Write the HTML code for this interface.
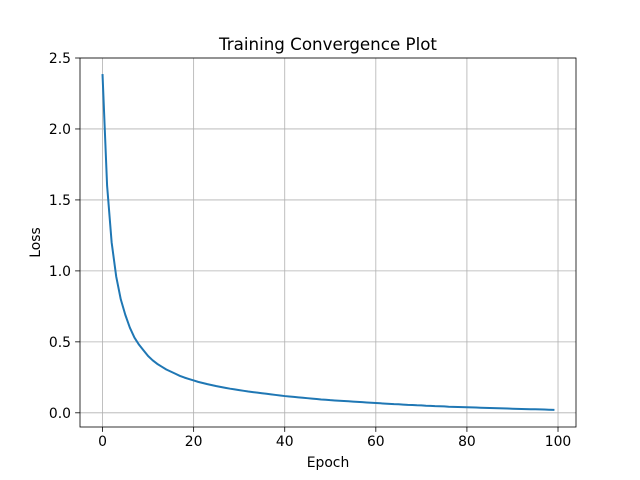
<!DOCTYPE html>
<html><head><meta charset="utf-8"><style>
html,body{margin:0;padding:0;background:#fff;width:640px;height:480px;overflow:hidden}
text{font-family:"DejaVu Sans","Liberation Sans",sans-serif;fill:#000}
</style></head><body>
<svg id="chart" width="640" height="480" xmlns="http://www.w3.org/2000/svg"></svg>
<script>
const lossValues=[2.38,1.60,1.20,0.96,0.80,0.69,0.60,0.53,0.48,0.44,0.40,0.37,0.345,0.325,0.305,0.29,0.275,0.26,0.248,0.238,0.228,0.218,0.21,0.202,0.195,0.188,0.182,0.176,0.17,0.165,0.16,0.155,0.15,0.146,0.142,0.138,0.134,0.13,0.126,0.122,0.118,0.115,0.112,0.109,0.106,0.103,0.1,0.097,0.094,0.092,0.089,0.087,0.085,0.083,0.081,0.079,0.077,0.075,0.073,0.071,0.069,0.067,0.065,0.063,0.061,0.06,0.058,0.056,0.055,0.053,0.052,0.05,0.049,0.047,0.046,0.045,0.043,0.042,0.041,0.04,0.039,0.038,0.037,0.036,0.035,0.034,0.033,0.032,0.031,0.03,0.029,0.028,0.027,0.026,0.025,0.025,0.024,0.023,0.022,0.021];
const xTicks=[0,20,40,60,80,100];
const yTicks=[0.0,0.5,1.0,1.5,2.0,2.5];
const yTickLabels=["0.0","0.5","1.0","1.5","2.0","2.5"];

const NS="http://www.w3.org/2000/svg";
const svg=document.getElementById('chart');
const L=80,R=576,T=58,B=427;
const xMin=-4.95,xMax=103.95,yMin=-0.1,yMax=2.5;
const sx=v=>L+(v-xMin)/(xMax-xMin)*(R-L);
const sy=v=>B-(v-yMin)/(yMax-yMin)*(B-T);
function mk(tag,attrs,parent){const e=document.createElementNS(NS,tag);for(const k in attrs)e.setAttribute(k,attrs[k]);(parent||svg).appendChild(e);return e;}

const grid=mk('g',{});


xTicks.forEach(t=>{mk('line',{x1:sx(t),x2:sx(t),y1:T,y2:B,stroke:'#b0b0b0','stroke-width':0.8},grid);});
yTicks.forEach(t=>{mk('line',{x1:L,x2:R,y1:sy(t),y2:sy(t),stroke:'#b0b0b0','stroke-width':0.8},grid);});

const xt=mk('g',{});


xTicks.forEach(t=>{mk('line',{x1:sx(t),x2:sx(t),y1:B,y2:B+4.9,stroke:'#000','stroke-width':0.8},xt);
 const tx=mk('text',{x:sx(t),y:B+19,'text-anchor':'middle','font-size':13.9},xt);tx.textContent=t;});
const yt=mk('g',{});


yTicks.forEach((t,i)=>{mk('line',{x1:L-4.9,x2:L,y1:sy(t),y2:sy(t),stroke:'#000','stroke-width':0.8},yt);
 const tx=mk('text',{x:L-9,y:sy(t)+5,'text-anchor':'end','font-size':13.9},yt);tx.textContent=yTickLabels[i];});

const pts=lossValues.map((v,i)=>sx(i).toFixed(2)+','+sy(v).toFixed(2)).join(' ');
const line=mk('polyline',{points:pts,fill:'none',stroke:'#1f77b4','stroke-width':2,'stroke-linejoin':'round','stroke-linecap':'square'});



const frame=mk('rect',{x:L,y:T,width:R-L,height:B-T,fill:'none',stroke:'#000','stroke-width':0.8});



const title=mk('text',{x:(L+R)/2,y:T-8,'text-anchor':'middle','font-size':16.7});
title.textContent='Training Convergence Plot';


const xl=mk('text',{x:(L+R)/2,y:467,'text-anchor':'middle','font-size':13.9});
xl.textContent='Epoch';


const yl=mk('text',{x:0,y:0,'text-anchor':'middle','font-size':13.9,transform:'translate(40,'+((T+B)/2)+') rotate(-90)'});
yl.textContent='Loss';


</script>
</body></html>
